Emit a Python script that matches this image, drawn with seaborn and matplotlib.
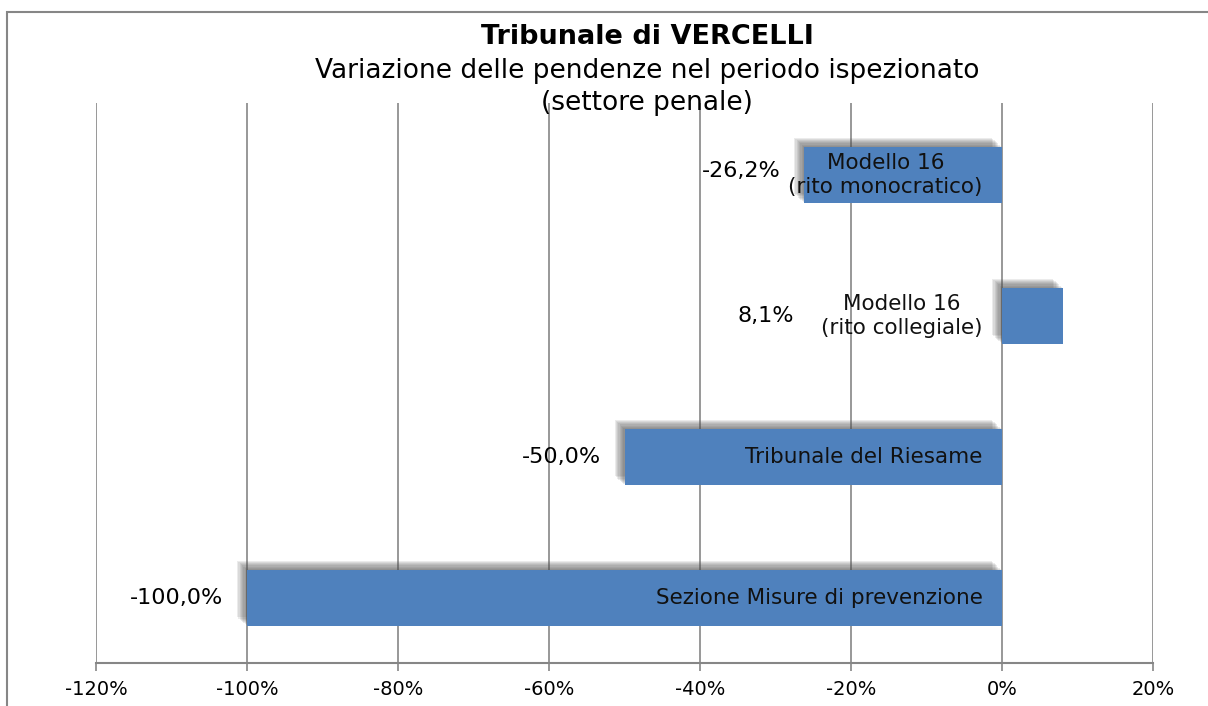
import matplotlib
matplotlib.use("Agg")
import matplotlib.pyplot as plt
import matplotlib.patheffects as pe
from matplotlib.patches import Rectangle
from matplotlib.ticker import FuncFormatter
import pandas as pd
import seaborn as sns

CATEGORIE = [
    "Modello 16\n(rito monocratico)",
    "Modello 16\n(rito collegiale)",
    "Tribunale del Riesame",
    "Sezione Misure di prevenzione",
]
VARIAZIONI = [-26.2, 8.1, -50.0, -100.0]
TITOLO = "Tribunale di VERCELLI"
SOTTOTITOLO = "Variazione delle pendenze nel periodo ispezionato\n(settore penale)"

BLU = "#4F81BD"
GRIGIO = "#868686"


def percento(v):
    return f"{v:.1f}%".replace(".", ",")


def main():
    sns.set_theme(style="white")
    plt.rcParams["font.family"] = ["DejaVu Sans"]
    plt.rcParams["text.color"] = "black"

    df = pd.DataFrame({"categoria": CATEGORIE, "variazione": VARIAZIONI})

    fig = plt.figure(figsize=(12.08, 7.06), dpi=100)
    ax = fig.add_axes([96 / 1208, 1 - 663 / 706, (1153 - 96) / 1208, (663 - 103) / 706])

    sns.barplot(data=df, x="variazione", y="categoria", orient="h",
                color=BLU, saturation=1, width=0.4, ax=ax, zorder=3)

    # ombra sfumata in alto a sinistra
    ombra = []
    for k in range(1, 9):
        ombra.append(pe.SimplePatchShadow(offset=(-k * 0.9, k * 0.8),
                                          shadow_rgbFace="0.3", alpha=0.11))
    for p in ax.patches:
        p.set_edgecolor("none")
        p.set_path_effects(ombra + [pe.Normal()])

    ax.set_xlim(-120, 20)
    ax.set_ylim(3.46, -0.51)
    ax.set_xticks(range(-120, 21, 20))
    ax.xaxis.set_major_formatter(FuncFormatter(lambda v, _: f"{v:.0f}%"))
    ax.set_yticks([])
    ax.set_xlabel("")
    ax.set_ylabel("")
    ax.tick_params(axis="x", labelsize=14, labelcolor="black", length=6, width=1.2,
                   direction="out", bottom=True, color=GRIGIO, pad=6)
    ax.xaxis.grid(True, color=GRIGIO, linewidth=1.2, zorder=0)
    ax.set_axisbelow(True)
    for s in ["top", "right", "left"]:
        ax.spines[s].set_visible(False)
    ax.spines["bottom"].set_color(GRIGIO)
    ax.spines["bottom"].set_linewidth(1.5)

    for i, (cat, v) in enumerate(zip(CATEGORIE, VARIAZIONI)):
        ax.annotate(cat, (0, i), xytext=(-14, 0), textcoords="offset points",
                    ha="right", va="center", multialignment="center",
                    fontsize=15.5, color="#111111", zorder=5)
        if v < 0:
            ax.annotate(percento(v), (v, i), xytext=(-17, 0 if i else 3),
                        textcoords="offset points", ha="right", va="center",
                        fontsize=16, color="black", zorder=5)
        else:
            ax.annotate(percento(v), (0, i), xytext=(-150, 0),
                        textcoords="offset points", ha="right", va="center",
                        fontsize=16, color="black", zorder=5)

    fig.text(647 / 1208, 1 - 37 / 706, TITOLO, ha="center", va="center",
             fontsize=19.5, fontweight="bold", color="black")
    fig.text(647 / 1208, 1 - 87 / 706, SOTTOTITOLO, ha="center", va="center",
             fontsize=19, linespacing=1.25, color="black")

    fig.patches.append(Rectangle((7 / 1208, -0.05), 1.2, 1 - 12 / 706 + 0.05,
                                 transform=fig.transFigure, fill=False,
                                 edgecolor=GRIGIO, linewidth=1.5))

    fig.savefig("out.png", dpi=100)
    plt.close(fig)


if __name__ == "__main__":
    main()
